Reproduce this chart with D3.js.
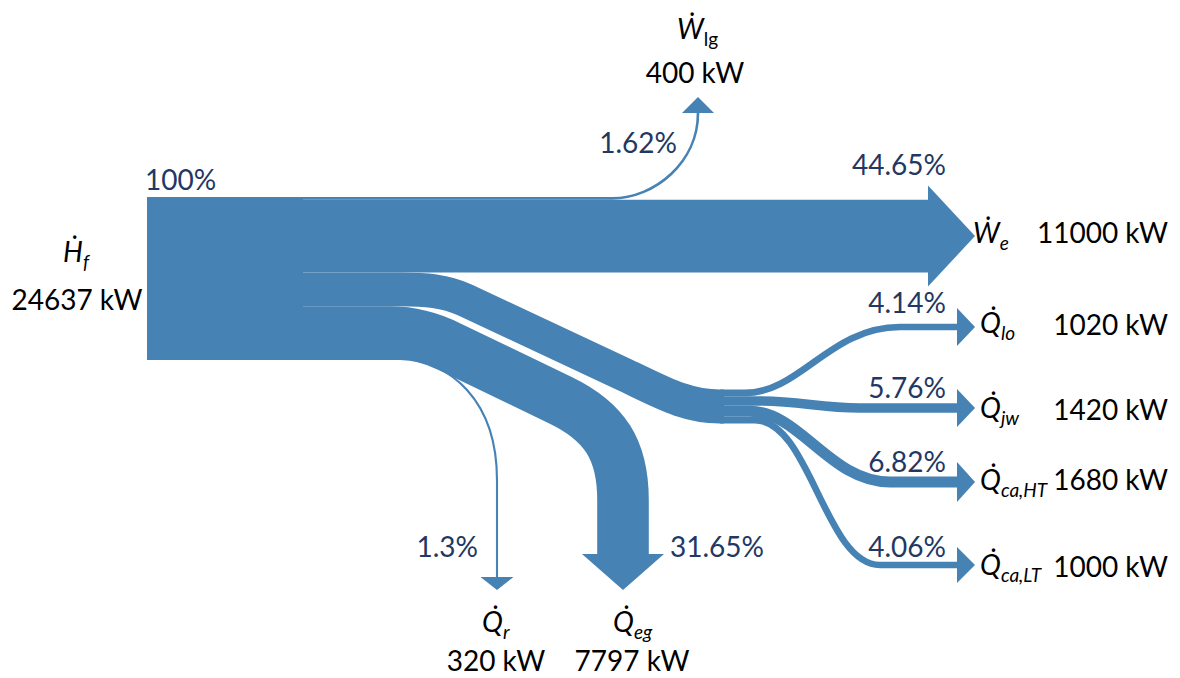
<!DOCTYPE html>
<html>
<head>
<meta charset="utf-8">
<script src="https://cdn.jsdelivr.net/npm/d3@7"></script>
<style>
  body { margin: 0; background: #fff; }
  svg { display: block; font-family: Lato, "Noto Sans", sans-serif; }
</style>
</head>
<body>
<svg id="chart" width="1180" height="678"></svg>
<script>
// Energy balance of the engine, all flows in kW
const sourceLetter = "H";
const sourceSub = "f";
const sourceValue = 24637;
const sourcePercent = "100%";

const sinkIds      = ["lg", "e", "lo", "jw", "caHT", "caLT", "r", "eg"];
const sinkLetters  = ["W", "W", "Q", "Q", "Q", "Q", "Q", "Q"];
const sinkSubs     = ["lg", "e", "lo", "jw", "ca,HT", "ca,LT", "r", "eg"];
const sinkValues   = [400, 11000, 1020, 1420, 1680, 1000, 320, 7797];
const sinkPercents = ["1.62%", "44.65%", "4.14%", "5.76%", "6.82%", "4.06%", "1.3%", "31.65%"];

// cooling-water heat streams share one band before splitting
const heatGroup = ["lo", "jw", "caHT", "caLT"];
// bands leaving the fuel block, top to bottom
const blockOrder = ["lg", "e", "heat", "eg", "r"];
const unit = "kW";

// ---------------------------------------------------------------
const svg = d3.select("#chart");
const blue = "#4682b4";
const navy = "#1f3864";

const valueOf = new Map(sinkIds.map((id, i) => [id, sinkValues[i]]));
valueOf.set("heat", d3.sum(heatGroup, id => valueOf.get(id)));

// band thickness in px per kW
const thick = d3.scaleLinear().domain([0, sourceValue]).range([0, 163]);

const blockX = 147, blockTop = 197, blockEnd = 303;
const juncX = 720, juncY = 406.5;

// centre line of each band where it starts
const startY = {};
let acc = blockTop;
blockOrder.forEach(id => {
  const w = thick(valueOf.get(id));
  startY[id] = acc + w / 2;
  acc += w;
});
acc = juncY - thick(valueOf.get("heat")) / 2;
heatGroup.forEach(id => {
  const w = thick(valueOf.get(id));
  startY[id] = acc + w / 2;
  acc += w;
});

// band routes (centre lines)
const routes = {
  lg:   y => `M${blockX},${y}H612C655,${y} 698,162 698,113`,
  e:    y => `M${blockX},${y}H928`,
  heat: y => `M${blockX},${y}H400C425,${y} 445,290.6 465,300L625,375C660,391.4 685,${juncY} ${juncX},${juncY}H${juncX + 4}`,
  eg:   y => `M${blockX},${y}H390C410,${y} 428,336 450,347L560,400C605,421.6 623,450 623,500V554`,
  r:    y => `M${blockX},${y}H400C450,${y + 2} 497,400 497,480V577`,
  lo:   y => `M${juncX},${y}H745C800,${y} 830,327 900,327H957`,
  jw:   y => `M${juncX},${y}H760C800,${y} 820,408 860,408H957`,
  caHT: y => `M${juncX},${y}H750C800,${y} 830,482 890,482H957`,
  caLT: y => `M${juncX},${y}H755C810,${y} 825,565 880,565H957`
};

// arrow heads: base centre, direction, half width, length
const heads = {
  lg:   { x: 698, y: 113, dir: "up",    half: 16,   len: 16 },
  e:    { x: 928, y: null, dir: "right", half: 50.5, len: 47 },
  lo:   { x: 957, y: 327, dir: "right", half: 19,   len: 18 },
  jw:   { x: 957, y: 408, dir: "right", half: 19,   len: 18 },
  caHT: { x: 957, y: 482, dir: "right", half: 20,   len: 18 },
  caLT: { x: 957, y: 565, dir: "right", half: 18,   len: 18 },
  r:    { x: 497, y: 577, dir: "down",  half: 16.5, len: 13 },
  eg:   { x: 623, y: 554, dir: "down",  half: 41,   len: 36 }
};
heads.e.y = startY.e;

function headPoints(h) {
  if (h.dir === "right") return [[h.x, h.y - h.half], [h.x + h.len, h.y], [h.x, h.y + h.half]];
  if (h.dir === "up")    return [[h.x - h.half, h.y], [h.x, h.y - h.len], [h.x + h.half, h.y]];
  return [[h.x - h.half, h.y], [h.x, h.y + h.len], [h.x + h.half, h.y]];
}

// fuel input block
svg.append("rect")
  .attr("x", blockX).attr("y", blockTop)
  .attr("width", blockEnd - blockX)
  .attr("height", thick(sourceValue))
  .attr("fill", blue);

const bandIds = blockOrder.concat(heatGroup);
svg.append("g").selectAll("path")
  .data(bandIds)
  .join("path")
  .attr("d", id => routes[id](startY[id]))
  .attr("fill", "none")
  .attr("stroke", blue)
  .attr("stroke-width", id => thick(valueOf.get(id)))
  .attr("stroke-linecap", "butt")
  .attr("stroke-linejoin", "round");

svg.append("g").selectAll("polygon")
  .data(sinkIds)
  .join("polygon")
  .attr("points", id => headPoints(heads[id]).join(" "))
  .attr("fill", blue);

// ---------------------------------------------------------------
// labels
const FS = 28, SUB = 19;

function symbol(letter, sub, x, y, subItalic) {
  const t = svg.append("text")
    .attr("x", x).attr("y", y)
    .attr("font-size", FS).attr("fill", "#000");
  t.append("tspan").attr("font-style", "italic").text(letter + "\u0307");
  t.append("tspan")
    .attr("font-size", SUB).attr("dy", 7)
    .attr("font-style", subItalic ? "italic" : "normal")
    .text(sub);
  return t;
}

function label(txt, x, y, anchor, color) {
  return svg.append("text")
    .attr("x", x).attr("y", y)
    .attr("text-anchor", anchor)
    .attr("font-size", FS)
    .attr("fill", color)
    .text(txt);
}

const kw = v => `${v} ${unit}`;

// source
symbol(sourceLetter, sourceSub, 63, 262, true);
label(kw(sourceValue), 77, 310, "middle", "#000");
label(sourcePercent, 145, 190, "start", navy);

// sinks: symbol position, value position, percent position
const sinkText = {
  lg:   { sym: [677, 39],  subItalic: false, val: [695, 83, "middle"],   pct: [677, 153, "end"] },
  e:    { sym: [973, 243], subItalic: true,  val: [1168, 243, "end"],    pct: [946, 175, "end"] },
  lo:   { sym: [980, 333], subItalic: true,  val: [1168, 335, "end"],    pct: [946, 313, "end"] },
  jw:   { sym: [980, 418], subItalic: true,  val: [1168, 420, "end"],    pct: [946, 398, "end"] },
  caHT: { sym: [980, 490], subItalic: true,  val: [1168, 490, "end"],    pct: [946, 472, "end"] },
  caLT: { sym: [980, 575], subItalic: true,  val: [1168, 577, "end"],    pct: [946, 557, "end"] },
  r:    { sym: [482, 632], subItalic: true,  val: [496, 671, "middle"],  pct: [478, 557, "end"] },
  eg:   { sym: [613, 632], subItalic: true,  val: [632, 671, "middle"],  pct: [670, 557, "start"] }
};

sinkIds.forEach((id, i) => {
  const s = sinkText[id];
  symbol(sinkLetters[i], sinkSubs[i], s.sym[0], s.sym[1], s.subItalic);
  label(kw(sinkValues[i]), s.val[0], s.val[1], s.val[2], "#000");
  label(sinkPercents[i], s.pct[0], s.pct[1], s.pct[2], navy);
});
</script>
</body>
</html>
